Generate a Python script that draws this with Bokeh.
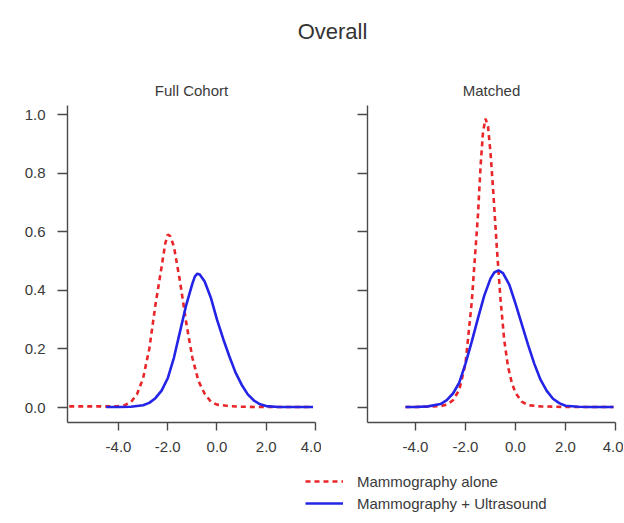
from bokeh.plotting import figure
from bokeh.models import Range1d, FixedTicker, Label, Legend, LegendItem, PrintfTickFormatter, CustomJSTickFormatter
from bokeh.layouts import column, row
from bokeh.embed import file_html
from bokeh.resources import INLINE

# ---------------- data ----------------
title_main = "Overall"
panel_titles = ["Full Cohort", "Matched"]
series_names = ["Mammography alone", "Mammography + Ultrasound"]
x_ticks = [-4.0, -2.0, 0.0, 2.0, 4.0]
y_ticks = [0.0, 0.2, 0.4, 0.6, 0.8, 1.0]

# Full cohort, mammography alone (red dashed)
full_alone_x = [-6.0, -5.5, -5.0, -4.5, -4.0, -3.75, -3.5, -3.25, -3.0, -2.75, -2.5, -2.25,
                -2.1, -2.0, -1.9, -1.75, -1.5, -1.25, -1.0, -0.75, -0.5, -0.25, 0.0, 0.5,
                1.0, 1.5, 2.0, 3.0, 3.9]
full_alone_y = [0.004, 0.004, 0.004, 0.004, 0.005, 0.008, 0.018, 0.045, 0.10, 0.20, 0.35, 0.48,
                0.56, 0.59, 0.585, 0.55, 0.43, 0.29, 0.17, 0.09, 0.047, 0.02, 0.01, 0.005,
                0.003, 0.002, 0.002, 0.002, 0.002]

# Full cohort, mammography + ultrasound (blue solid)
full_us_x = [-4.5, -4.0, -3.5, -3.0, -2.75, -2.5, -2.25, -2.0, -1.75, -1.5, -1.25, -1.0,
             -0.9, -0.8, -0.7, -0.5, -0.25, 0.0, 0.25, 0.5, 0.75, 1.0, 1.25, 1.5, 1.75,
             2.0, 2.5, 3.0, 3.5, 3.9]
full_us_y = [0.002, 0.002, 0.003, 0.008, 0.016, 0.032, 0.058, 0.10, 0.17, 0.26, 0.35, 0.423,
             0.447, 0.457, 0.454, 0.43, 0.375, 0.30, 0.235, 0.175, 0.12, 0.078, 0.045, 0.024, 0.011,
             0.005, 0.002, 0.002, 0.002, 0.002]

# Matched, mammography alone (red dashed)
matched_alone_x = [-4.4, -4.0, -3.5, -3.0, -2.75, -2.5, -2.25, -2.0, -1.75, -1.5, -1.4, -1.3,
                   -1.2, -1.1, -1.0, -0.9, -0.75, -0.6, -0.45, -0.3, -0.15, 0.0, 0.25, 0.5,
                   1.0, 1.5, 2.0, 3.0, 3.92]
matched_alone_y = [0.002, 0.002, 0.003, 0.005, 0.01, 0.025, 0.06, 0.15, 0.36, 0.66, 0.82, 0.94,
                   0.986, 0.96, 0.87, 0.75, 0.55, 0.37, 0.23, 0.14, 0.085, 0.05, 0.02, 0.008,
                   0.004, 0.003, 0.002, 0.002, 0.002]

# Matched, mammography + ultrasound (blue solid)
matched_us_x = [-4.4, -4.0, -3.5, -3.0, -2.75, -2.5, -2.25, -2.0, -1.75, -1.5, -1.25, -1.0,
                -0.85, -0.68, -0.5, -0.25, 0.0, 0.25, 0.5, 0.75, 1.0, 1.25, 1.5, 1.75, 2.0,
                2.5, 3.0, 3.5, 3.92]
matched_us_y = [0.002, 0.002, 0.004, 0.012, 0.025, 0.048, 0.085, 0.15, 0.225, 0.305, 0.382, 0.44,
                0.461, 0.468, 0.459, 0.42, 0.355, 0.285, 0.215, 0.15, 0.095, 0.057, 0.03, 0.015, 0.006,
                0.003, 0.002, 0.002, 0.002]

# ---------------- styling ----------------
FONT = "Liberation Sans"
RED = "#e8262a"
BLUE = "#2424e6"
AXC = "#4a4a4a"
TXT = "#3a3a3a"
DASH = "5 4"
LW = 2.6


def style_axes(p, show_y_labels=True):
    p.xgrid.visible = False
    p.ygrid.visible = False
    p.outline_line_color = None
    p.background_fill_color = "white"
    p.border_fill_color = "white"
    for ax in (p.xaxis[0], p.yaxis[0]):
        ax.axis_line_color = AXC
        ax.axis_line_width = 1.4
        ax.major_tick_line_color = AXC
        ax.major_tick_line_width = 1.4
        ax.minor_tick_line_color = None
        ax.major_tick_in = 0
        ax.major_label_text_font = FONT
        ax.major_label_text_font_size = "15px"
        ax.major_label_text_color = TXT
    p.xaxis[0].ticker = FixedTicker(ticks=x_ticks)
    p.xaxis[0].formatter = PrintfTickFormatter(format="%.1f")
    p.xaxis[0].major_tick_out = 8
    p.xaxis[0].major_label_standoff = 11
    p.yaxis[0].ticker = FixedTicker(ticks=y_ticks)
    p.yaxis[0].major_tick_out = 10
    p.yaxis[0].major_label_standoff = 12
    if show_y_labels:
        p.yaxis[0].formatter = PrintfTickFormatter(format="%.1f")
    else:
        p.yaxis[0].formatter = CustomJSTickFormatter(code="return '';")


def make_panel(xr, width, left, right, xa, ya, xb, yb, show_y):
    p = figure(width=width, height=362, x_range=Range1d(*xr), y_range=Range1d(-0.051, 1.031),
               toolbar_location=None, output_backend="svg",
               min_border_left=left, min_border_right=right,
               min_border_top=5, min_border_bottom=40)
    p.line(xa, ya, line_color=RED, line_width=LW, line_dash=DASH)
    p.line(xb, yb, line_color=BLUE, line_width=LW)
    style_axes(p, show_y)
    return p


p1 = make_panel((-6.07, 4.0), 321, 67, 6, full_alone_x, full_alone_y, full_us_x, full_us_y, True)
p2 = make_panel((-5.92, 4.0), 302, 46, 8, matched_alone_x, matched_alone_y, matched_us_x, matched_us_y, False)

# header with titles
header = figure(width=623, height=100, x_range=Range1d(0, 623), y_range=Range1d(100, 0),
                toolbar_location=None, output_backend="svg", min_border=0)
header.axis.visible = False
header.grid.visible = False
header.outline_line_color = None
header.add_layout(Label(x=332, y=31, text=title_main, text_align="center", text_baseline="middle",
                        text_font=FONT, text_font_size="22px", text_color="#333333"))
header.add_layout(Label(x=191, y=90, text=panel_titles[0], text_align="center", text_baseline="middle",
                        text_font=FONT, text_font_size="15px", text_color=TXT))
header.add_layout(Label(x=491, y=90, text=panel_titles[1], text_align="center", text_baseline="middle",
                        text_font=FONT, text_font_size="15px", text_color=TXT))

# footer with legend (proxy renderers use the series data, kept outside the visible x range)
footer = figure(width=623, height=60, x_range=Range1d(100, 723), y_range=Range1d(0, 60),
                toolbar_location=None, output_backend="svg", min_border=0)
footer.axis.visible = False
footer.grid.visible = False
footer.outline_line_color = None
lr = footer.line(full_alone_x, full_alone_y, line_color=RED, line_width=LW, line_dash=DASH)
lb = footer.line(full_us_x, full_us_y, line_color=BLUE, line_width=LW)
legend = Legend(items=[LegendItem(label=series_names[0], renderers=[lr]),
                       LegendItem(label=series_names[1], renderers=[lb])],
                location=(305, 9), orientation="vertical",
                border_line_color=None, background_fill_alpha=0,
                padding=0, margin=0, spacing=2, glyph_width=38, glyph_height=20,
                label_height=20, label_standoff=14,
                label_text_font=FONT, label_text_font_size="15px", label_text_color=TXT)
footer.add_layout(legend)

layout = column(header, row(p1, p2), footer)

open("out.html", "w").write(file_html(layout, INLINE))
